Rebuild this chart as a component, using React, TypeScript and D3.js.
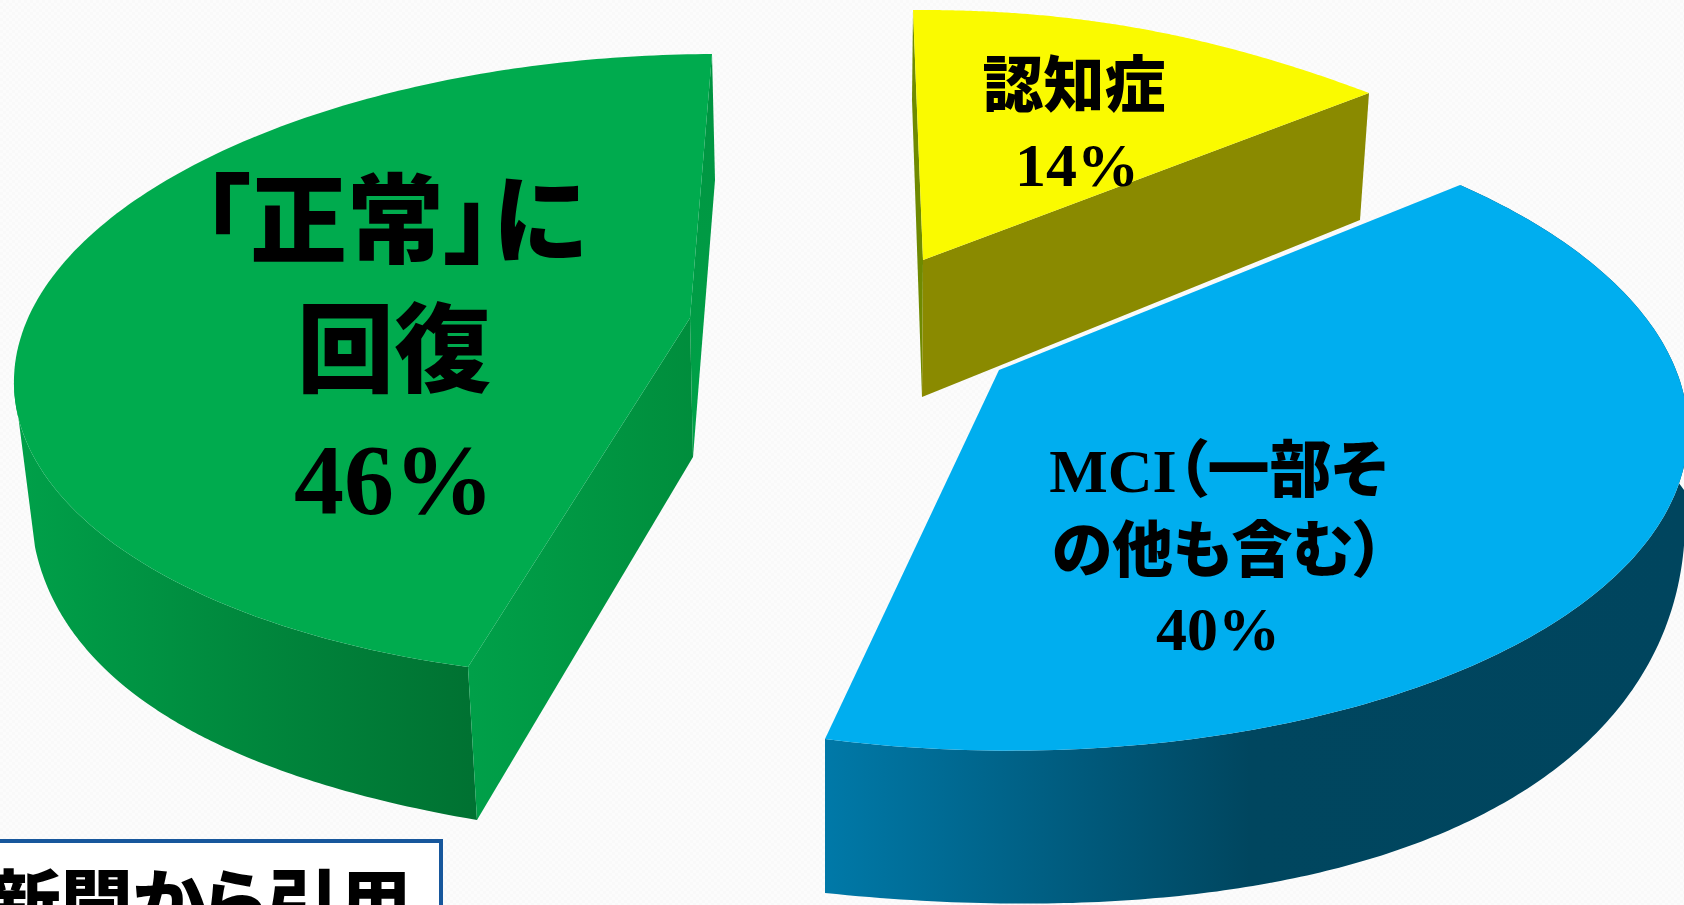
import React from "react";
import * as d3 from "d3";

const categories = ["認知症", "MCI", "正常"];
const values = [14, 40, 46];
const labelLines = [["認知症"], ["MCI（一部そ", "の他も含む）"], ["「正常」に", "回復"]];
const sourceNote = "新聞から引用";

type P = [number, number];

// Perspective calibration of the 3-D pie: [rim start, two rim points, rim end], plus points the rim should pass near.
const yellowRim: { anchors: P[]; checks: P[] } = {
  anchors: [[913, 10], [1013, 13], [1247, 53], [1369, 93]],
  checks: [[1147, 30]],
};
const blueRim: { anchors: P[]; checks: P[] } = {
  anchors: [[1460, 185], [1661, 340], [1467, 668], [825, 739]],
  checks: [[1551, 237], [1617, 283], [1684, 397], [1673, 505], [1627, 568], [1543, 628], [1371, 708], [1275, 732], [1180, 745], [1084, 751], [1020, 752]],
};
const greenRim: { anchors: P[]; checks: P[] } = {
  anchors: [[468, 667], [100, 533], [100, 227], [712, 54]],
  checks: [[283, 627], [183, 587], [50, 487], [23, 440], [16, 377], [20, 340], [50, 278], [167, 182], [233, 147], [333, 108], [480, 73]],
};
const blueFloor: { anchors: P[]; checks: P[] } = {
  anchors: [[1684, 490], [1604, 725], [1275, 882], [825, 893]],
  checks: [[1670, 602], [1647, 665], [1543, 778], [1467, 822], [1371, 858], [1180, 897], [1103, 905]],
};
const greenFloor: { anchors: P[]; checks: P[] } = {
  anchors: [[477, 820], [300, 777], [133, 693], [35, 547]],
  checks: [[400, 807], [217, 740], [77, 637], [43, 577]],
};

function solve(A: number[][], b: number[]) {
  const n = b.length;
  const M = A.map((r, i) => [...r, b[i]]);
  for (let c = 0; c < n; c++) {
    let p = c;
    for (let r = c + 1; r < n; r++) if (Math.abs(M[r][c]) > Math.abs(M[p][c])) p = r;
    [M[c], M[p]] = [M[p], M[c]];
    for (let r = 0; r < n; r++) {
      if (r === c) continue;
      const f = M[r][c] / M[c][c];
      for (let k = c; k <= n; k++) M[r][k] -= f * M[c][k];
    }
  }
  return M.map((r, i) => r[n] / r[i]);
}

function homography(src: P[], dst: P[]) {
  const A: number[][] = [];
  const b: number[] = [];
  src.forEach(([u, v], i) => {
    const [x, y] = dst[i];
    A.push([u, v, 1, 0, 0, 0, -u * x, -v * x]);
    b.push(x);
    A.push([0, 0, 0, u, v, 1, -u * y, -v * y]);
    b.push(y);
  });
  const h = solve(A, b);
  return ([u, v]: P): P => {
    const w = h[6] * u + h[7] * v + 1;
    return [(h[0] * u + h[1] * v + h[2]) / w, (h[3] * u + h[4] * v + h[5]) / w];
  };
}

const unit = (a: number): P => [Math.sin(a), Math.cos(a)];
const pieGen = d3.pie<number>().sort(null).value((d) => d);
const arcs = pieGen(values);
const line = d3.line<P>();

// The rim of a slice: the pie's own angles carried through the perspective that best meets the calibration.
function rimOf(a0: number, a1: number, cal: { anchors: P[]; checks: P[] }): P[] {
  const angles = (n: number) => d3.range(0, n + 1).map((k) => a0 + ((a1 - a0) * k) / n);
  let best: ((p: P) => P) | null = null;
  let bestCost = Infinity;
  for (let f1 = 0.06; f1 < 0.8; f1 += 0.02) {
    for (let f2 = f1 + 0.06; f2 < 0.96; f2 += 0.02) {
      const src: P[] = [0, f1, f2, 1].map((f) => unit(a0 + (a1 - a0) * f));
      const map = homography(src, cal.anchors);
      const pts = angles(80).map((a) => map(unit(a)));
      if (pts.some(([x, y]) => !isFinite(x) || x < -300 || x > 2300 || y < -300 || y > 1300)) continue;
      let len = 0;
      for (let i = 1; i < pts.length; i++) len += Math.hypot(pts[i][0] - pts[i - 1][0], pts[i][1] - pts[i - 1][1]);
      let cost = len * 0.001;
      for (const [cx, cy] of cal.checks) {
        cost += d3.min(pts, ([x, y]) => (x - cx) ** 2 + (y - cy) ** 2) as number;
      }
      if (cost < bestCost) {
        bestCost = cost;
        best = map;
      }
    }
  }
  return angles(160).map((a) => (best as (p: P) => P)(unit(a)));
}

const yRim = rimOf(arcs[0].startAngle, arcs[0].endAngle, yellowRim);
const bRim = rimOf(arcs[1].startAngle, arcs[1].endAngle, blueRim);
const gRim = rimOf(arcs[2].startAngle, arcs[2].endAngle, greenRim);
const bFloor = rimOf(arcs[1].startAngle, arcs[1].endAngle, blueFloor);
const gFloor = rimOf(arcs[2].startAngle, arcs[2].endAngle, greenFloor);
// The green outer wall shows only up to the leftmost point of the rim
const gVisible = gRim.slice(0, (d3.leastIndex(gRim, (a, b) => a[0] - b[0]) as number) + 1);

// Slice apexes and the corners of the cut faces
const yApex: P = [923, 260];
const yApexLow: P = [922, 397];
const yLeftLow: P = [912, 100];
const yRightLow: P = [1360, 220];
const bApex: P = [999, 370];
const gApex: P = [690, 318];
const gApexLow: P = [693, 457];
const gEndLow: P = [715, 180];

const serif = '"Liberation Serif", "Noto Sans CJK JP", serif';
const last = (a: P[]) => a[a.length - 1];
const wall = (top: P[], floor: P[]) => line([...top, ...[...floor].reverse()]) + "Z";
const face = (apex: P, rim: P[]) => line([apex, ...rim]) + "Z";

export default function App() {
  const txt = { fontFamily: serif, fontWeight: 900, fill: "#000", textAnchor: "middle" as const, style: { fontFeatureSettings: '"palt"' } };
  return (
    <svg width={1684} height={905} style={{ position: "absolute", left: 0, top: 0 }}>
      <defs>
        <pattern id="bg" width={6} height={6} patternUnits="userSpaceOnUse">
          <rect width={6} height={6} fill="#fcfcfc" />
          <rect width={3} height={3} fill="#f9f9f9" />
          <rect x={3} y={3} width={3} height={3} fill="#f9f9f9" />
        </pattern>
        <linearGradient id="gw" gradientUnits="userSpaceOnUse" x1={20} x2={470} y1={0} y2={0}>
          <stop offset="0" stopColor="#00a049" />
          <stop offset="0.5" stopColor="#00883d" />
          <stop offset="1" stopColor="#007232" />
        </linearGradient>
        <linearGradient id="gi" gradientUnits="userSpaceOnUse" x1={470} x2={700} y1={0} y2={0}>
          <stop offset="0" stopColor="#00a049" />
          <stop offset="1" stopColor="#008d3c" />
        </linearGradient>
        <linearGradient id="gs" gradientUnits="userSpaceOnUse" x1={0} x2={0} y1={54} y2={460}>
          <stop offset="0" stopColor="#009340" />
          <stop offset="1" stopColor="#00a349" />
        </linearGradient>
        <linearGradient id="bw" gradientUnits="userSpaceOnUse" x1={825} x2={1684} y1={0} y2={0}>
          <stop offset="0" stopColor="#0079a8" />
          <stop offset="0.3" stopColor="#005a7c" />
          <stop offset="0.495" stopColor="#00465f" />
          <stop offset="1" stopColor="#00455e" />
        </linearGradient>
      </defs>
      <rect width={1684} height={905} fill="url(#bg)" />

      {/* green */}
      <path d={line([gApex, last(gRim), gEndLow, gApexLow]) + "Z"} fill="url(#gs)" />
      <path d={wall(gVisible, gFloor)} fill="url(#gw)" />
      <path d={line([gRim[0], gApex, gApexLow, gFloor[0]]) + "Z"} fill="url(#gi)" />
      <path d={face(gApex, gRim)} fill="#00ab4e" />

      {/* blue */}
      <path d={wall(bRim, bFloor)} fill="url(#bw)" />
      <path d={face(bApex, bRim)} fill="#00aeef" />

      {/* yellow */}
      <path d={line([yRim[0], yLeftLow, yApexLow, yApex]) + "Z"} fill="#6f8a00" />
      <path d={line([yApex, last(yRim), yRightLow, yApexLow]) + "Z"} fill="#8a8a00" />
      <path d={face(yApex, yRim)} fill="#fafa00" />

      <text {...txt} x={394} y={255} fontSize={97}>{labelLines[2][0]}</text>
      <text {...txt} x={394} y={384} fontSize={97}>{labelLines[2][1]}</text>
      <text {...txt} x={394} y={513} fontSize={100}>{values[2]}%</text>

      <text {...txt} x={1218} y={492} fontSize={62}>{labelLines[1][0]}</text>
      <text {...txt} x={1218} y={572} fontSize={61}>{labelLines[1][1]}</text>
      <text {...txt} x={1218} y={650} fontSize={62}>{values[1]}%</text>

      <text {...txt} x={1074} y={107} fontSize={61}>{labelLines[0][0]}</text>
      <text {...txt} x={1077} y={186} fontSize={62}>{values[0]}%</text>

      <rect x={-10} y={841} width={451} height={80} fill="#fff" stroke="#17579c" strokeWidth={4} />
      <text {...txt} x={200} y={929} fontSize={72}>{sourceNote}</text>
    </svg>
  );
}
